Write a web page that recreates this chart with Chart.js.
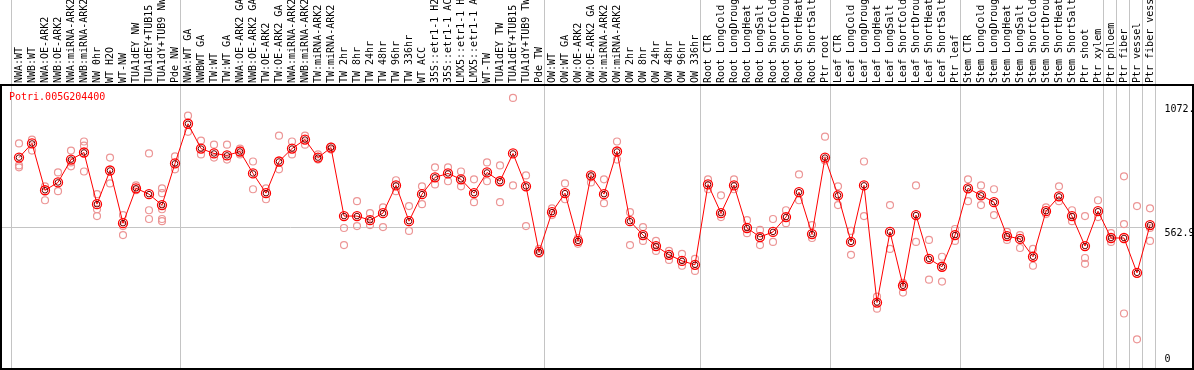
<!DOCTYPE html>
<html><head><meta charset="utf-8">
<script src="https://cdn.jsdelivr.net/npm/chart.js@4/dist/chart.umd.min.js"></script>
<style>html,body{margin:0;padding:0;background:#fff;overflow:hidden}#wrap{width:1194px;height:370px;position:relative}</style>
</head><body><div id="wrap"><canvas id="c" width="1194" height="370"></canvas></div>
<script>
const geneId = "Potri.005G204400";
const categories = [
 "NWA:WT","NWB:WT","NWA:OE-ARK2","NWB:OE-ARK2","NWA:miRNA-ARK2","NWB:miRNA-ARK2","NW 0hr","WT H2O","WT-NW","TUA1dEY NW","TUA1dEY+TUB15 NW","TUA1dY+TUB9 NW","Pde NW",
 "NWA:WT GA","NWBWT GA","TW:WT","TW:WT GA","NWA:OE-ARK2 GA","NWB:OE-ARK2 GA","TW:OE-ARK2","TW:OE-ARK2 GA","NWA:miRNA-ARK2","NWB:miRNA-ARK2","TW:miRNA-ARK2","TW:miRNA-ARK2",
 "TW 2hr","TW 8hr","TW 24hr","TW 48hr","TW 96hr","TW 336hr","WT ACC","35S::etr1-1 H2O","35S::etr1-1 ACC","LMX5::etr1-1 H2O","LMX5::etr1-1 ACC","WT-TW","TUA1dEY TW","TUA1dEY+TUB15 TW","TUA1dY+TUB9 TW","Pde TW",
 "OW:WT","OW:WT GA","OW:OE-ARK2","OW:OE-ARK2 GA","OW:miRNA-ARK2","OW:miRNA-ARK2","OW 2hr","OW 8hr","OW 24hr","OW 48hr","OW 96hr","OW 336hr",
 "Root CTR","Root LongCold","Root LongDrought","Root LongHeat","Root LongSalt","Root ShortCold","Root ShortDrought","Root ShortHeat","Root ShortSalt","Ptr root",
 "Leaf CTR","Leaf LongCold","Leaf LongDrought","Leaf LongHeat","Leaf LongSalt","Leaf ShortCold","Leaf ShortDrought","Leaf ShortHeat","Leaf ShortSalt","Ptr leaf",
 "Stem CTR","Stem LongCold","Stem LongDrought","Stem LongHeat","Stem LongSalt","Stem ShortCold","Stem ShortDrought","Stem ShortHeat","Stem ShortSalt","Ptr shoot","Ptr xylem",
 "Ptr phloem","Ptr fiber","Ptr vessel","Ptr fiber vessel"
];
// first category index of each separated group
const groupStarts = [0,13,41,53,63,73,84,85,86,87];
const meanValues = [
 848,906,714,746,840,869,657,795,579,722,698,653,824,
 987,885,865,857,873,783,702,832,885,922,848,889,
 608,608,591,620,734,587,698,767,783,759,702,787,751,865,730,461,
 624,702,506,775,698,873,587,530,485,449,424,408,
 738,620,734,559,522,543,604,706,534,848,
 693,502,734,253,543,322,612,432,400,530,
 722,693,665,526,514,441,628,689,608,485,628,
 518,518,375,571
];
const replicateValues = [
 [906,816,808],[922,877],[730,673],[787,710],[877,812,828],[914,897,791],[698,636,608],[848,742],[612,567,530],[734,714],[865,632,596],[722,702,636,596,587],[853,800],
 [1020,954],[918,861],[901,848],[901,840],[885,861],[832,718],[722,677],[938,800],[914,861],[938,901],[861,840],[893,881],
 [559,489],[669,567],[620,571],[644,563],[755,710],[649,547],[730,657],[808,738],[808,751],[791,730],[759,665],[828,751],[816,665],[1093,734],[775,567],[473,453],
 [640,612],[742,677],[518,494],[767,746],[759,661],[914,840],[624,489],[563,506],[506,465],[465,428],[453,404],[432,383],
 [759,718],[693,604],[759,718],[591,538],[551,489],[596,502],[632,579],[779,673],[571,518],[934,836],
 [730,653],[547,449],[832,608],[277,228],[653,473],[334,294],[734,502],[510,347],[441,339],[555,506],
 [759,669],[734,653],[718,612],[543,510],[530,477],[473,404],[644,616],[730,669],[632,587],[608,436,412],[673,604],
 [538,502],[771,575,208],[649,102],[640,559,506]
];
const yTickValues = [0, 562.9, 1072];
const yTickLabels = ["0", "562.9", "1072."];
const referenceValue = 562.9;

const MONO = "'DejaVu Sans Mono', 'Liberation Mono', monospace";

const replicatePoints = [];
replicateValues.forEach((arr, i) => arr.forEach(v => replicatePoints.push({x: i, y: v})));

const decor = {
  id: 'decor',
  beforeDraw(chart) {
    const ctx = chart.ctx;
    ctx.save();
    ctx.fillStyle = '#fff';
    ctx.fillRect(0, 0, chart.width, chart.height);
    ctx.restore();
  },
  beforeDatasetsDraw(chart) {
    const ctx = chart.ctx, xs = chart.scales.x, ys = chart.scales.y;
    const step = xs.getPixelForValue(1) - xs.getPixelForValue(0);
    ctx.save();
    ctx.strokeStyle = '#c4c4c4';
    ctx.lineWidth = 1;
    const xsLines = groupStarts.map(i => xs.getPixelForValue(i) - step / 2 - 1.5);
    xsLines.push(xs.getPixelForValue(categories.length - 1) + step / 2 - 1.5);
    xsLines.forEach(px => {
      const p = Math.round(px) + 0.5;
      ctx.beginPath(); ctx.moveTo(p, 0); ctx.lineTo(p, 369); ctx.stroke();
    });
    const ry = Math.round(ys.getPixelForValue(referenceValue)) + 0.5;
    ctx.beginPath(); ctx.moveTo(2, ry); ctx.lineTo(Math.round(xsLines[xsLines.length - 1]) + 0.5, ry); ctx.stroke();
    ctx.restore();
  },
  afterDraw(chart) {
    const ctx = chart.ctx, ys = chart.scales.y, ca = chart.chartArea;
    ctx.save();
    ctx.strokeStyle = '#000';
    ctx.lineWidth = 2;
    ctx.beginPath();
    ctx.moveTo(0, 85); ctx.lineTo(1194, 85);
    ctx.moveTo(1, 85); ctx.lineTo(1, 369); ctx.lineTo(1193, 369); ctx.lineTo(1193, 85);
    ctx.stroke();
    ctx.fillStyle = '#000';
    ctx.font = '10px ' + MONO;
    ctx.textAlign = 'left';
    yTickValues.forEach((v, k) => {
      const py = ys.getPixelForValue(v);
      ctx.textBaseline = k === 0 ? 'bottom' : 'top';
      ctx.fillText(yTickLabels[k], ca.right + 8, k === 0 ? py : py + 1);
    });
    ctx.fillStyle = '#ff0000';
    ctx.textBaseline = 'middle';
    ctx.fillText(geneId, 9, 97);
    ctx.restore();
  }
};

new Chart(document.getElementById('c'), {
  data: {
    labels: categories,
    datasets: [
      {
        type: 'scatter', xAxisID: 'xi', yAxisID: 'y', data: replicatePoints,
        showLine: false, pointRadius: 3.5, pointBorderWidth: 1.2,
        pointBorderColor: 'rgb(236,150,150)', pointBackgroundColor: 'rgba(0,0,0,0)', order: 3
      },
      {
        type: 'line', xAxisID: 'x', yAxisID: 'y', data: meanValues,
        borderColor: '#ff0000', borderWidth: 1, tension: 0,
        pointRadius: 4.5, pointBorderWidth: 1.3, pointBorderColor: '#ff0000',
        pointBackgroundColor: 'rgba(0,0,0,0)', order: 2
      },
      {
        type: 'line', xAxisID: 'x', yAxisID: 'y', data: meanValues,
        showLine: false, pointRadius: 2.8, pointBorderWidth: 1,
        pointBorderColor: '#700000', pointBackgroundColor: 'rgba(0,0,0,0)', order: 1
      }
    ]
  },
  options: {
    responsive: false, animation: false, devicePixelRatio: 1,
    layout: { padding: { left: 12.5, right: 0, top: 0, bottom: 4 } },
    plugins: { legend: { display: false }, tooltip: { enabled: false } },
    scales: {
      x: {
        type: 'category', position: 'top', offset: true,
        grid: { display: false, drawTicks: false }, border: { display: false },
        ticks: { autoSkip: false, minRotation: 90, maxRotation: 90, padding: 2, labelOffset: 12,
                 color: '#000', font: { family: MONO, size: 10 } },
        afterFit(s) { s.height = 85; }
      },
      xi: {
        type: 'linear', display: false, min: -0.5, max: categories.length - 0.5
      },
      y: {
        type: 'linear', position: 'right', min: 0, max: 1146,
        grid: { display: false }, border: { display: false },
        ticks: { display: false },
        afterFit(s) { s.width = 37.5; }
      }
    }
  },
  plugins: [decor]
});
</script>
</body></html>
